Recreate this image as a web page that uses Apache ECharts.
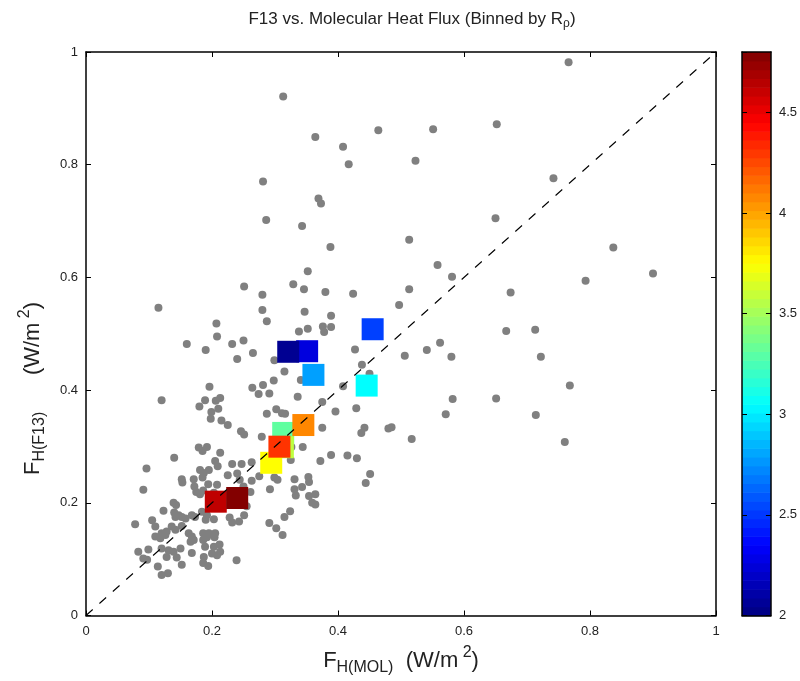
<!DOCTYPE html>
<html><head><meta charset="utf-8">
<script src="https://cdn.jsdelivr.net/npm/echarts@6/dist/echarts.min.js"></script>
<style>html,body{margin:0;padding:0;background:#fff}#c{width:800px;height:681px}</style>
</head><body><div id="c"></div>
<script>
// ---------- data ----------
const axisTicks = [0, 0.2, 0.4, 0.6, 0.8, 1];
const cbTicks = [2, 2.5, 3, 3.5, 4, 4.5];
const cbMin = 2, cbMax = 4.8;
const diagLine = [[0, 0], [1, 1]];
const grayPoints = [
[0.766,0.982],[0.652,0.872],[0.742,0.776],[0.650,0.705],[0.837,0.653],[0.793,0.594],[0.900,0.607],[0.674,0.573],[0.667,0.505],[0.713,0.507],[0.722,0.459],[0.768,0.408],[0.651,0.385],[0.714,0.356],[0.760,0.308],
[0.313,0.921],[0.364,0.849],[0.464,0.861],[0.551,0.863],[0.408,0.832],[0.417,0.801],[0.523,0.807],[0.281,0.770],[0.369,0.740],[0.373,0.731],[0.286,0.702],[0.343,0.691],[0.388,0.654],[0.513,0.667],[0.558,0.622],[0.581,0.601],[0.352,0.611],[0.329,0.588],[0.346,0.579],[0.380,0.574],[0.424,0.571],[0.513,0.579],[0.280,0.569],
[0.497,0.551],[0.347,0.539],[0.389,0.532],[0.338,0.504],[0.352,0.509],[0.376,0.513],[0.389,0.512],[0.378,0.503],[0.562,0.484],[0.541,0.471],[0.427,0.472],[0.506,0.461],[0.580,0.459],[0.438,0.445],[0.450,0.429],[0.315,0.433],[0.341,0.418],[0.408,0.407],[0.336,0.388],[0.375,0.379],[0.582,0.384],[0.429,0.368],[0.396,0.362],[0.571,0.357],[0.316,0.358],[0.375,0.333],[0.442,0.333],[0.437,0.324],[0.480,0.332],[0.485,0.334],[0.517,0.313],[0.344,0.299],[0.326,0.299],[0.389,0.285],[0.415,0.284],[0.430,0.279],[0.372,0.274],[0.325,0.276],[0.451,0.251],[0.444,0.235],[0.331,0.242],[0.353,0.246],[0.354,0.237],[0.343,0.228],[0.331,0.224],[0.333,0.213],[0.354,0.212],[0.364,0.215],[0.359,0.200],[0.364,0.197],[0.324,0.185],[0.315,0.175],
[0.251,0.584],[0.115,0.546],[0.280,0.542],[0.287,0.522],[0.207,0.518],[0.208,0.495],[0.160,0.482],[0.232,0.482],[0.250,0.488],[0.190,0.471],[0.265,0.466],[0.240,0.455],[0.299,0.453],[0.196,0.406],[0.264,0.404],[0.281,0.409],[0.298,0.417],[0.274,0.393],[0.291,0.394],[0.120,0.382],[0.189,0.382],[0.180,0.371],[0.206,0.381],[0.213,0.386],[0.210,0.367],[0.199,0.361],[0.198,0.349],[0.215,0.346],[0.225,0.338],[0.287,0.358],[0.302,0.366],[0.311,0.359],[0.246,0.327],[0.251,0.321],[0.279,0.317],
[0.179,0.298],[0.192,0.299],[0.185,0.292],[0.213,0.289],[0.263,0.272],[0.247,0.269],[0.232,0.269],[0.205,0.274],[0.209,0.265],[0.181,0.258],[0.187,0.253],[0.195,0.258],[0.185,0.245],[0.225,0.249],[0.240,0.252],[0.275,0.247],[0.244,0.241],[0.263,0.239],[0.299,0.245],[0.304,0.241],[0.292,0.224],[0.208,0.232],[0.194,0.233],[0.186,0.222],[0.181,0.215],[0.203,0.218],[0.261,0.219],[0.255,0.194],[0.251,0.178],[0.228,0.174],[0.232,0.165],[0.243,0.167],[0.291,0.164],[0.302,0.155],[0.312,0.143],[0.192,0.178],[0.190,0.170],[0.203,0.171],[0.250,0.229],
[0.186,0.146],[0.195,0.146],[0.205,0.146],[0.192,0.139],[0.204,0.139],[0.186,0.134],[0.189,0.122],[0.203,0.122],[0.212,0.126],[0.213,0.113],[0.200,0.110],[0.208,0.107],[0.187,0.104],[0.186,0.093],[0.194,0.088],[0.239,0.098],
[0.140,0.280],[0.096,0.261],[0.152,0.242],[0.153,0.236],[0.171,0.242],[0.091,0.223],[0.172,0.229],[0.175,0.219],[0.139,0.200],[0.143,0.196],[0.123,0.186],
[0.078,0.162],[0.105,0.169],[0.110,0.158],[0.142,0.175],[0.147,0.178],[0.152,0.175],[0.158,0.172],[0.168,0.178],[0.173,0.175],[0.184,0.184],[0.136,0.158],[0.142,0.152],[0.128,0.149],[0.120,0.146],[0.126,0.143],[0.110,0.140],[0.118,0.137],[0.152,0.159],[0.163,0.146],[0.168,0.140],[0.166,0.131],[0.171,0.134],[0.083,0.113],[0.099,0.117],[0.091,0.101],[0.097,0.099],[0.120,0.119],[0.131,0.116],[0.139,0.113],[0.150,0.119],[0.128,0.104],[0.144,0.103],[0.168,0.111],[0.114,0.087],[0.152,0.090],[0.120,0.072],[0.130,0.075],[0.140,0.183]
];
// binned means (drawing order), colour value = R_rho
const binX = [0.351, 0.321, 0.361, 0.455, 0.4455, 0.313, 0.3125, 0.294, 0.307, 0.345, 0.206, 0.240];
const binY = [0.469, 0.468, 0.427, 0.508, 0.408, 0.324, 0.2986, 0.271, 0.2996, 0.338, 0.202, 0.2085];
const binR = [2.26, 2.05, 2.79, 2.525, 3.05, 3.31, 3.575, 3.75, 4.31, 4.08, 4.625, 4.79];

// ---------- colormap (jet) ----------
const jetStops = [[0,0,0.5],[0,0,1],[0,0.5,1],[0,1,1],[0.5,1,0.5],[1,1,0],[1,0.5,0],[1,0,0],[0.5,0,0]];
function jet(v) {
  let t = (v - cbMin) / (cbMax - cbMin); t = Math.max(0, Math.min(1, t));
  const p = t * 8, i = Math.min(7, Math.floor(p)), f = p - i;
  const a = jetStops[i], b = jetStops[i + 1];
  const c = a.map((x, k) => Math.round(255 * (x + (b[k] - x) * f)));
  return 'rgb(' + c.join(',') + ')';
}
const nLevels = 64;
const cbBands = [];
for (let i = 0; i < nLevels; i++) {
  const lo = cbMin + (cbMax - cbMin) * i / nLevels, hi = cbMin + (cbMax - cbMin) * (i + 1) / nLevels;
  cbBands.push([0.5, lo, hi]);
}

// ---------- styling ----------
const FONT = 'Liberation Sans';
const TXT = '#222';
const frameLine = { show: true, onZero: false, lineStyle: { color: '#000', width: 1.5 } };
const tickIn = { show: true, inside: true, length: 5, lineStyle: { color: '#000', width: 1 } };
const lbl = { color: TXT, fontSize: 13, fontFamily: FONT };

const mctx = document.createElement('canvas').getContext('2d');
function buildText(pieces) {
  let x = 0; const kids = [];
  pieces.forEach(p => {
    mctx.font = p[1] + 'px "' + FONT + '"';
    const w = mctx.measureText(p[0]).width;
    kids.push({ type: 'text', x: x, y: p[2], style: { text: p[0], fontSize: p[1], fontFamily: FONT, fill: TXT, align: 'left', verticalAlign: 'middle' } });
    x += w;
  });
  return { kids, width: x };
}
const title = buildText([['F13 vs. Molecular Heat Flux (Binned by R', 17, 0], ['\u03c1', 12, 5], [')', 17, 0]]);
const xl = buildText([['F', 22, 0], ['H(MOL)', 16, 7], ['  (W/m', 22, 0], [' 2', 16, -8], [')', 22, 0]]);
const yl = buildText([['F', 22, 0], ['H(F13)', 16, 7], ['      (W/m', 22, 0], [' 2', 16, -8], [')', 22, 0]]);

const plotCx = 86 + 315;

const option = {
  animation: false,
  backgroundColor: '#fff',
  grid: [
    { left: 86, top: 52, width: 630, height: 563.5 },
    { left: 742, top: 52, width: 32, height: 563.5 }
  ],
  xAxis: [
    { gridIndex: 0, type: 'value', min: 0, max: 1, interval: 0.2, position: 'bottom', z: 10,
      axisLine: frameLine, axisTick: tickIn, axisLabel: Object.assign({ margin: 9 }, lbl), splitLine: { show: false } },
    { gridIndex: 0, type: 'value', min: 0, max: 1, interval: 0.2, position: 'top', z: 10,
      axisLine: frameLine, axisTick: tickIn, axisLabel: { show: false }, splitLine: { show: false } },
    { gridIndex: 1, type: 'value', min: 0, max: 1, position: 'bottom', z: 10,
      axisLine: frameLine, axisTick: { show: false }, axisLabel: { show: false }, splitLine: { show: false } },
    { gridIndex: 1, type: 'value', min: 0, max: 1, position: 'top', z: 10,
      axisLine: frameLine, axisTick: { show: false }, axisLabel: { show: false }, splitLine: { show: false } }
  ],
  yAxis: [
    { gridIndex: 0, type: 'value', min: 0, max: 1, interval: 0.2, position: 'left', z: 10,
      axisLine: frameLine, axisTick: tickIn, axisLabel: Object.assign({ margin: 8 }, lbl), splitLine: { show: false } },
    { gridIndex: 0, type: 'value', min: 0, max: 1, interval: 0.2, position: 'right', z: 10,
      axisLine: frameLine, axisTick: tickIn, axisLabel: { show: false }, splitLine: { show: false } },
    { gridIndex: 1, type: 'value', min: cbMin, max: cbMax, interval: 0.5, position: 'left', z: 10,
      axisLine: frameLine, axisTick: tickIn, axisLabel: { show: false }, splitLine: { show: false } },
    { gridIndex: 1, type: 'value', min: cbMin, max: cbMax, interval: 0.5, position: 'right', z: 10,
      axisLine: frameLine, axisTick: tickIn,
      axisLabel: Object.assign({ margin: 8, showMaxLabel: false, formatter: v => (cbTicks.indexOf(v) >= 0 ? String(v) : '') }, lbl),
      splitLine: { show: false } }
  ],
  series: [
    { type: 'scatter', xAxisIndex: 0, yAxisIndex: 0, data: grayPoints, symbol: 'circle', symbolSize: 8,
      itemStyle: { color: '#808080', opacity: 1 }, z: 2, silent: true },
    { type: 'scatter', xAxisIndex: 0, yAxisIndex: 0, symbol: 'rect', symbolSize: 22, z: 3, silent: true,
      data: binX.map((x, i) => [x, binY[i], binR[i]]),
      itemStyle: { opacity: 1, color: p => jet(p.value[2]) } },
    { type: 'line', xAxisIndex: 0, yAxisIndex: 0, data: diagLine, symbol: 'none', z: 5, silent: true,
      lineStyle: { color: '#000', width: 1.1, type: [9, 9] } },
    { type: 'custom', xAxisIndex: 2, yAxisIndex: 2, data: cbBands, encode: { x: 0, y: [1, 2] }, z: 2, silent: true,
      renderItem: (params, api) => {
        const p0 = api.coord([0, api.value(1)]), p1 = api.coord([1, api.value(2)]);
        return { type: 'rect', shape: { x: p0[0], y: p1[1], width: p1[0] - p0[0], height: p0[1] - p1[1] + 0.6 },
          style: { fill: jet((api.value(1) + api.value(2)) / 2) } };
      } }
  ],
  graphic: [
    { type: 'group', x: 412 - title.width / 2, y: 19, children: title.kids },
    { type: 'group', x: plotCx - xl.width / 2, y: 661, children: xl.kids },
    { type: 'group', x: 33, y: 475, rotation: Math.PI / 2, children: yl.kids }
  ]
};
const chart = echarts.init(document.getElementById('c'));
chart.setOption(option);
</script>
</body></html>
